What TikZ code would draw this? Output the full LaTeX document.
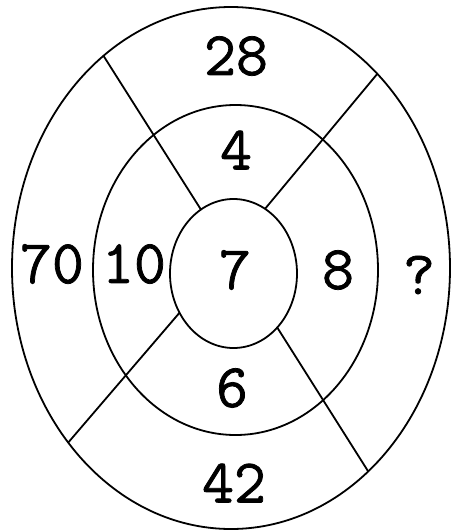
\documentclass[tikz,border=0pt]{standalone}
\usepackage{fontspec}
\newfontfamily\numfont[FakeBold=1.2]{Latin Modern Mono}
\usetikzlibrary{shapes.geometric}

\begin{document}
\begin{tikzpicture}[
    x=1pt, y=-1pt,
    ring/.style={ellipse, draw=black, line width=1.8pt, inner sep=0pt, outer sep=0pt},
    spoke/.style={draw=black, line width=1.8pt},
    num/.style={font=\numfont\fontsize{62}{62}\selectfont, inner sep=0pt}
]
    \useasboundingbox (0,0) rectangle (451,531);

    \node[ring, minimum width=438pt, minimum height=522pt] (outer) at (231,268) {};
    \node[ring, minimum width=285pt, minimum height=330pt] (middle) at (235.5,270) {};
    \node[ring, minimum width=127pt, minimum height=149pt] (inner) at (233.5,273.5) {};

    \draw[spoke] (inner.117) -- (outer.121.7);
    \draw[spoke] (inner.64.3) -- (outer.53.3);
    \draw[spoke] (inner.216.3) -- (outer.227.4);
    \draw[spoke] (inner.309.3) -- (outer.304.7);

    \node[num] (top) at (236,56) {28};
    \node[num] (topin) at (236,150) {4};
    \node[num] (centre) at (235,270) {7};
    \node[num] (left) at (52,264) {70};
    \node[num] (leftin) at (134,264) {10};
    \node[num] (rightin) at (338,270) {8};
    \node[num] (right) at (419,275) {?};
    \node[num] (botin) at (232,388) {6};
    \node[num] (bot) at (234,483) {42};
\end{tikzpicture}
\end{document}
